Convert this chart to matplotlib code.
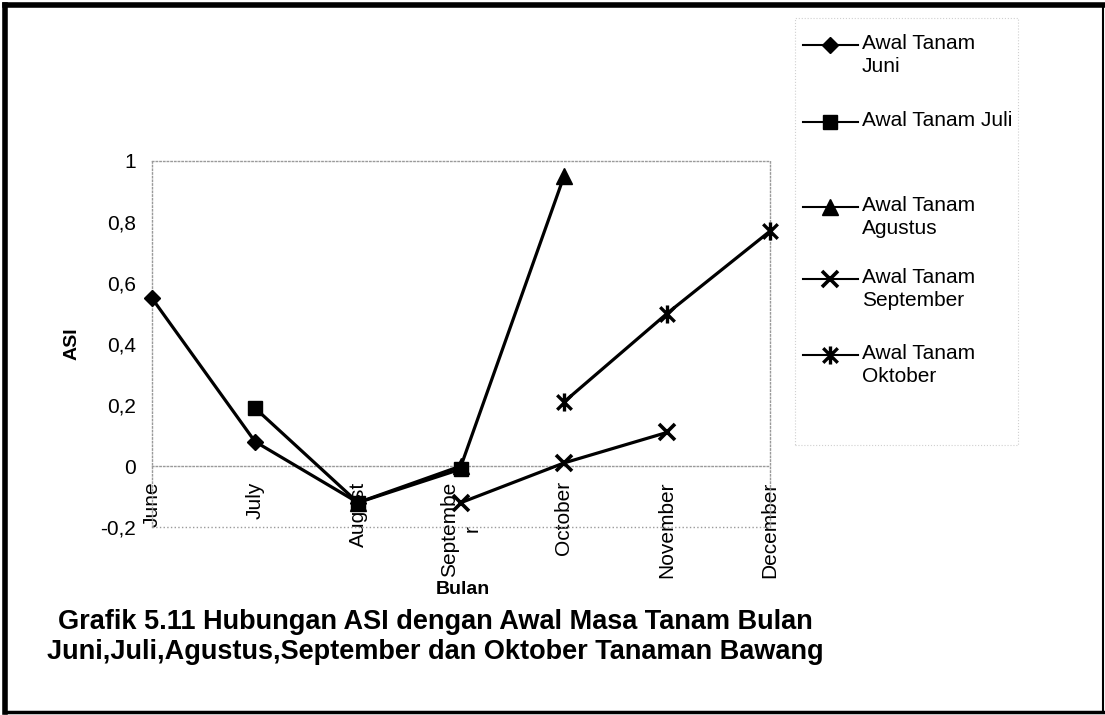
import matplotlib

matplotlib.use("Agg")
from matplotlib import pyplot as plt
from matplotlib.lines import Line2D
from matplotlib.path import Path
from matplotlib.patches import Rectangle

months = ["June", "July", "August", "Septembe\nr", "October", "November", "December"]
y_ticks = [-0.2, 0, 0.2, 0.4, 0.6, 0.8, 1]

# each planting start covers three months, beginning at its own month
juni = [0.55, 0.08, -0.12]
juli = [0.19, -0.12, -0.01]
agustus = [-0.12, 0.0, 0.95]
september = [-0.12, 0.01, 0.11]
oktober = [0.21, 0.50, 0.77]

labels = [
    "Awal Tanam\nJuni",
    "Awal Tanam Juli",
    "Awal Tanam\nAgustus",
    "Awal Tanam\nSeptember",
    "Awal Tanam\nOktober",
]

W, H = 1105, 715
plt.rcParams["font.family"] = ["Liberation Sans", "DejaVu Sans"]


def px(x, y):
    return x / W, 1 - y / H


star = Path(
    [(-0.5, -0.5), (0.5, 0.5), (-0.5, 0.5), (0.5, -0.5), (0, -0.62), (0, 0.62)],
    [Path.MOVETO, Path.LINETO] * 3,
)

styles = [
    dict(marker="D", markersize=8.5),
    dict(marker="s", markersize=10),
    dict(marker="^", markersize=11),
    dict(marker="x", markersize=11, markeredgewidth=2.6),
    dict(marker=star, markersize=13, markeredgewidth=2.4, markerfacecolor="none"),
]
series = [juni, juli, agustus, september, oktober]
zorders = [3, 5, 4, 3, 3]

figure = plt.figure(figsize=(W / 100, H / 100), dpi=100)
left, right = 152 / W, 770 / W
bottom, top = 1 - 527 / H, 1 - 161 / H
axis = figure.add_axes([left, bottom, right - left, top - bottom])

grey = "#9a9a9a"
for name in ("top", "left", "right", "bottom"):
    axis.spines[name].set_linestyle(":")
    axis.spines[name].set_color(grey)
    axis.spines[name].set_linewidth(1.0)
# category axis crosses at zero; set before tick labels (it resets ticks)
axis.spines["bottom"].set_position(("data", 0))

for start, (values, style, z) in enumerate(zip(series, styles, zorders)):
    style = dict(style)
    xs = list(range(start, start + len(values)))
    axis.plot(
        xs, values, color="black", linewidth=2.3, markeredgecolor="black",
        markerfacecolor=style.pop("markerfacecolor", "black"), zorder=z,
        clip_on=False, **style,
    )

axis.set_xlim(0, len(months) - 1)
axis.set_ylim(y_ticks[0], y_ticks[-1])
axis.set_xticks(range(len(months)))
axis.set_xticklabels(months, rotation=90, ha="center", va="top", ma="center")
axis.set_yticks(y_ticks)
axis.set_yticklabels([f"{v:g}".replace(".", ",") for v in y_ticks])
axis.tick_params(axis="both", length=0, labelsize=15)
axis.tick_params(axis="x", pad=11)
axis.tick_params(axis="y", pad=11.5)
axis.axhline(y_ticks[0], color=grey, linestyle=":", linewidth=1.0, clip_on=False)

figure.text(*px(72, 344), "ASI", rotation=90, ha="center", va="center",
            fontsize=14, fontweight="bold")
figure.text(*px(463, 590), "Bulan", ha="center", va="center",
            fontsize=14, fontweight="bold")
figure.text(
    *px(435, 637),
    "Grafik 5.11 Hubungan ASI dengan Awal Masa Tanam Bulan\n"
    "Juni,Juli,Agustus,September dan Oktober Tanaman Bawang",
    ha="center", va="center", fontsize=19.5, fontweight="bold", linespacing=1.2,
)

# legend, drawn by hand so the marker sits on the first text line
legend_rows = [45, 122, 207, 279, 355]
figure.add_artist(Rectangle(px(795, 445), 223 / W, 427 / H, transform=figure.transFigure,
                            fill=False, edgecolor="#d0d0d0", linestyle=":", linewidth=0.8))
for row, label, style in zip(legend_rows, labels, styles):
    style = dict(style)
    face = style.pop("markerfacecolor", "black")
    x0, y0 = px(803, row)
    x1, _ = px(830, row)
    x2, _ = px(858, row)
    figure.add_artist(Line2D([x0, x1, x2], [y0, y0, y0], transform=figure.transFigure,
                             color="black", linewidth=1.5, markevery=[1],
                             markeredgecolor="black", markerfacecolor=face, **style))
    figure.text(*px(862, row - 11), label, ha="left", va="top", fontsize=15,
                linespacing=1.3)

# scanned page frame
frame = [((5, 5), (1105, 5), 4.0), ((5, 5), (5, 712), 4.0),
         ((5, 712), (1105, 712), 2.5), ((1103, 5), (1103, 712), 1.5)]
for (xa, ya), (xb, yb), lw in frame:
    (fa, ga), (fb, gb) = px(xa, ya), px(xb, yb)
    figure.add_artist(Line2D([fa, fb], [ga, gb], transform=figure.transFigure,
                             color="black", linewidth=lw))

figure.savefig("out.png", dpi=100)
plt.close(figure)
